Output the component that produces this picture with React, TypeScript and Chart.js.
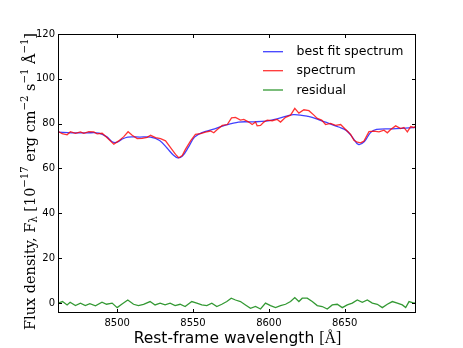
import React, { useEffect, useRef } from 'react';
import { Chart, registerables } from 'chart.js';

Chart.register(...registerables);

// ---- data ----
const fitWave = [8461, 8470, 8480, 8488, 8493, 8497, 8500, 8503, 8507, 8515, 8522, 8528, 8533, 8537, 8540, 8543, 8547, 8551, 8556, 8563, 8570, 8580, 8590, 8598, 8606, 8616, 8626, 8634, 8640, 8646, 8651, 8655, 8659, 8663, 8667, 8671, 8680, 8690, 8698];
const fitFlux = [76.2, 75.9, 75.9, 75.8, 74.2, 71.8, 71.7, 73.0, 74.0, 74.0, 74.0, 72.5, 69.0, 66.0, 64.7, 65.5, 69.5, 74.0, 76.0, 77.4, 79.0, 80.7, 80.8, 81.1, 82.2, 84.0, 83.2, 81.5, 80.0, 78.5, 77.0, 74.0, 70.7, 72.0, 76.0, 77.4, 77.7, 78.0, 78.4];

const specWave = [8461.5, 8463.7, 8467, 8469.2, 8472.5, 8475.8, 8478, 8481.3, 8484.6, 8486.8, 8490.1, 8493.4, 8497.8, 8501, 8504.4, 8507.2, 8509.9, 8513.2, 8516.5, 8519.8, 8522, 8525.3, 8528.6, 8531.9, 8535.2, 8538.5, 8540.6, 8542.9, 8545, 8548.4, 8551.6, 8555, 8558.2, 8561.5, 8563.7, 8566, 8569.3, 8572.6, 8575.4, 8578, 8581.3, 8583.5, 8586.8, 8589, 8591.2, 8592.3, 8594.5, 8596.7, 8598.9, 8602.2, 8605.5, 8607.7, 8611, 8614.3, 8617.1, 8619.8, 8623.1, 8626.4, 8629.7, 8631.9, 8634.8, 8637.4, 8640.7, 8644, 8647.3, 8650.6, 8653.9, 8656.1, 8658.3, 8660.5, 8662.7, 8666, 8669.3, 8672.6, 8675.9, 8678.1, 8680.3, 8683.6, 8686.9, 8689, 8691.3, 8693.5, 8695.6, 8697.2];
const specFlux = [76.4, 75.5, 75.0, 76.4, 75.7, 76.3, 75.7, 76.4, 76.3, 75.4, 75.7, 73.7, 70.8, 72.3, 74.2, 76.4, 74.8, 73.3, 73.4, 73.9, 74.8, 73.8, 73.3, 72.3, 69.3, 66.3, 64.8, 65.8, 68.5, 72.3, 75.2, 75.5, 76.2, 76.7, 75.9, 77.4, 79.2, 79.6, 82.6, 82.8, 81.6, 81.9, 80.7, 79.6, 80.7, 79.0, 79.2, 80.7, 81.6, 81.3, 81.9, 80.7, 82.8, 83.8, 86.8, 84.7, 86.2, 85.8, 83.8, 82.3, 81.6, 79.6, 80.1, 79.2, 79.6, 77.4, 75.2, 72.6, 71.7, 71.4, 72.2, 76.4, 76.7, 76.3, 77.1, 75.9, 77.4, 79.0, 77.8, 78.3, 76.3, 78.7, 78.3, 79.0];

const residWave = [8461, 8464, 8467, 8469, 8472.5, 8475.8, 8479, 8482, 8485.7, 8490, 8493, 8496.7, 8500, 8503, 8507, 8510.8, 8514, 8517.4, 8521.7, 8525, 8528.3, 8531.6, 8534.9, 8538.2, 8541.5, 8544.8, 8549.2, 8552.5, 8555.8, 8559.1, 8562.4, 8565.7, 8569, 8572.3, 8575.2, 8578, 8581.3, 8584.6, 8587.9, 8591.2, 8594.5, 8597.8, 8601.1, 8604.4, 8607.7, 8611, 8614.3, 8617.1, 8619.8, 8622, 8625.3, 8628.6, 8631.9, 8635.2, 8638.5, 8641.8, 8645.1, 8648.4, 8651.7, 8655, 8658.3, 8661.6, 8664.9, 8668.2, 8671.5, 8674.8, 8678.1, 8681.4, 8684.7, 8688, 8690.2, 8692.4, 8695.7, 8697.9];
const residFlux = [-0.1, 0.6, -0.9, 0.3, -1.2, -0.1, -1.2, -0.3, -1.3, 0.3, -0.6, -0.1, -2.1, -0.6, 1.3, -0.6, -1.2, -0.6, 0.6, -0.9, -0.1, -0.9, -0.1, -1.2, -0.6, -1.6, 0.6, -0.1, -0.9, -1.2, -0.1, -1.6, -0.6, 0.6, 2.1, 1.3, 0.6, -0.9, -2.4, -1.6, -2.7, -0.1, -1.2, -2.1, -1.2, -0.6, 0.6, 2.4, 0.6, 2.1, 2.1, 0.6, -1.2, -1.6, -2.7, -0.9, -0.6, -2.1, -0.9, -0.1, 1.3, 0.3, 1.3, -0.1, -0.6, -2.1, -0.6, 0.6, -0.1, -0.9, -2.1, 0.6, -0.1, 0.3];

const seriesLabels = ['best fit spectrum', 'spectrum', 'residual'];
const seriesColors = ['rgba(0,0,255,0.75)', 'rgba(255,0,0,0.8)', 'rgba(0,128,0,0.8)'];
const xTicks = [8500, 8550, 8600, 8650];
const yTicks = [0, 20, 40, 60, 80, 100, 120];
const xMin = 8461;
const xMax = 8697;
const yMin = -4.5;
const yMax = 120;
const xTitle = 'Rest-frame wavelength';
const xTitleUnit = '[Å]';

type Part = { t: string; k: 'n' | 'sup' | 'sub' };
const yTitleParts: Part[] = [
  { t: 'Flux density, F', k: 'n' },
  { t: 'λ', k: 'sub' },
  { t: ' [10', k: 'n' },
  { t: '−17', k: 'sup' },
  { t: ' erg cm', k: 'n' },
  { t: '−2', k: 'sup' },
  { t: ' s', k: 'n' },
  { t: '−1', k: 'sup' },
  { t: ' Å', k: 'n' },
  { t: '−1', k: 'sup' },
  { t: ']', k: 'n' },
];

const SANS = '"DejaVu Sans", sans-serif';
const SERIF = '"DejaVu Serif", serif';
const SERIF2 = '"Liberation Serif", "DejaVu Serif", serif';

const toXY = (xs: number[], ys: number[]) => xs.map((x, i) => ({ x, y: ys[i] }));

const overlay = {
  id: 'overlay',
  afterDatasetsDraw(chart: any) {
    const ctx: CanvasRenderingContext2D = chart.ctx;
    const { left, right, top, bottom } = chart.chartArea;
    const xs = chart.scales.x;
    const ys = chart.scales.y;
    ctx.save();
    ctx.strokeStyle = '#000';
    ctx.lineWidth = 1;
    ctx.strokeRect(Math.round(left) + 0.5, Math.round(top) + 0.5, Math.round(right - left) - 1, Math.round(bottom - top) - 1);
    const tl = 4;
    ctx.beginPath();
    xTicks.forEach((v) => {
      const p = Math.round(xs.getPixelForValue(v)) + 0.5;
      ctx.moveTo(p, bottom);
      ctx.lineTo(p, bottom - tl);
      ctx.moveTo(p, top);
      ctx.lineTo(p, top + tl);
    });
    yTicks.forEach((v) => {
      const p = Math.round(ys.getPixelForValue(v)) + 0.5;
      ctx.moveTo(left, p);
      ctx.lineTo(left + tl, p);
      ctx.moveTo(right, p);
      ctx.lineTo(right - tl, p);
    });
    ctx.stroke();
    ctx.restore();
  },
  afterDraw(chart: any) {
    const ctx: CanvasRenderingContext2D = chart.ctx;
    ctx.save();
    // legend
    const legY = [51.7, 70.7, 90];
    seriesLabels.forEach((lab, i) => {
      ctx.strokeStyle = seriesColors[i];
      ctx.lineWidth = 1.3;
      ctx.beginPath();
      ctx.moveTo(263, legY[i]);
      ctx.lineTo(283, legY[i]);
      ctx.stroke();
      ctx.fillStyle = '#000';
      ctx.font = `12.5px ${SANS}`;
      ctx.textBaseline = 'middle';
      ctx.textAlign = 'left';
      ctx.fillText(lab, 296.5, legY[i] + 0.5);
    });
    // x title
    ctx.textBaseline = 'alphabetic';
    ctx.font = `15.5px ${SANS}`;
    const w1 = ctx.measureText(xTitle + ' ').width;
    ctx.font = `16px ${SERIF2}`;
    const w2 = ctx.measureText(xTitleUnit).width;
    const x0 = 237.5 - (w1 + w2) / 2;
    ctx.font = `15.5px ${SANS}`;
    ctx.fillText(xTitle + ' ', x0, 343);
    ctx.font = `16px ${SERIF2}`;
    ctx.fillText(xTitleUnit, x0 + w1, 343);
    // y title (rotated, with super/subscripts), sized to span the reference length
    const measure = (S: number) => {
      let tot = 0;
      yTitleParts.forEach((p) => {
        ctx.font = p.k === 'n' ? `${S}px ${SERIF}` : `${S * 0.7}px ${SERIF}`;
        tot += ctx.measureText(p.t).width;
      });
      return tot;
    };
    const S = 14 * (297 / measure(14));
    const fontFor = (k: string) => (k === 'n' ? `${S}px ${SERIF}` : `${S * 0.7}px ${SERIF}`);
    const total = measure(S);
    ctx.translate(34.5, 181.5);
    ctx.rotate(-Math.PI / 2);
    let cx = -total / 2;
    yTitleParts.forEach((p) => {
      ctx.font = fontFor(p.k);
      const dy = p.k === 'sup' ? -S * 0.45 : p.k === 'sub' ? S * 0.2 : 0;
      ctx.fillText(p.t, cx, dy);
      cx += ctx.measureText(p.t).width;
    });
    ctx.restore();
  },
};

export default function App() {
  const ref = useRef<HTMLCanvasElement | null>(null);
  useEffect(() => {
    if (!ref.current) return;
    const chart = new Chart(ref.current, {
      type: 'line',
      data: {
        datasets: [
          { label: seriesLabels[0], data: toXY(fitWave, fitFlux), borderColor: seriesColors[0], borderWidth: 1.3, pointRadius: 0, tension: 0.35, order: 1 },
          { label: seriesLabels[1], data: toXY(specWave, specFlux), borderColor: seriesColors[1], borderWidth: 1.3, pointRadius: 0, tension: 0, order: 0 },
          { label: seriesLabels[2], data: toXY(residWave, residFlux), borderColor: seriesColors[2], borderWidth: 1.3, pointRadius: 0, tension: 0, order: 2 },
        ],
      },
      options: {
        animation: false,
        responsive: false,
        devicePixelRatio: 1,
        layout: { padding: { left: 0, top: 34, right: 47, bottom: 0 } },
        plugins: { legend: { display: false }, tooltip: { enabled: false } },
        scales: {
          x: {
            type: 'linear',
            min: xMin,
            max: xMax,
            grid: { display: false, drawTicks: false },
            border: { display: false },
            afterFit: (s: any) => { s.height = 35; },
            afterBuildTicks: (s: any) => { s.ticks = xTicks.map((v) => ({ value: v })); },
            ticks: { color: '#000', font: { family: SANS, size: 10 }, padding: 4, maxRotation: 0, callback: (v: any) => String(v) },
          },
          y: {
            type: 'linear',
            min: yMin,
            max: yMax,
            grid: { display: false, drawTicks: false },
            border: { display: false },
            afterFit: (s: any) => { s.width = 58; },
            afterBuildTicks: (s: any) => { s.ticks = yTicks.map((v) => ({ value: v })); },
            ticks: { color: '#000', font: { family: SANS, size: 10 }, padding: 3, callback: (v: any) => String(v) },
          },
        },
      },
      plugins: [overlay],
    } as any);
    return () => chart.destroy();
  }, []);
  return (
    <div style={{ position: 'fixed', left: 0, top: 0, width: 463, height: 348, background: '#fff' }}>
      <canvas ref={ref} width={463} height={348} />
    </div>
  );
}
